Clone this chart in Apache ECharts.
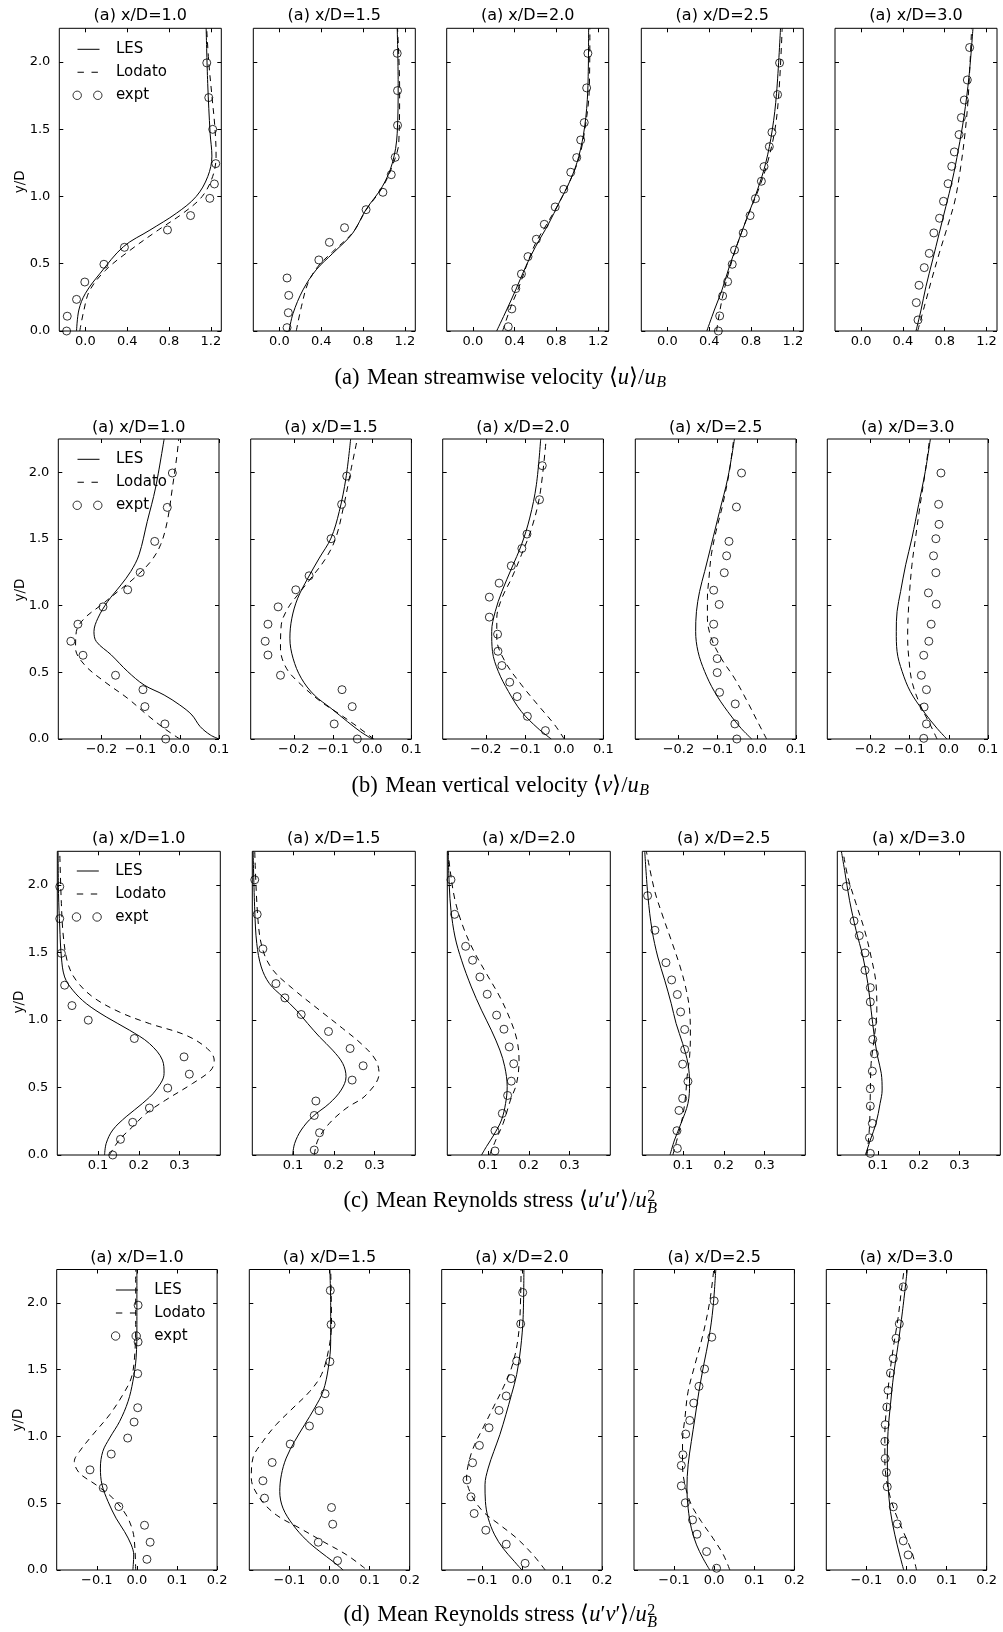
<!DOCTYPE html>
<html><head><meta charset="utf-8">
<script src="https://cdn.jsdelivr.net/npm/echarts@6/dist/echarts.min.js"></script>
<style>html,body{margin:0;padding:0;background:#fff}#c{width:1003px;height:1632px}</style>
</head><body><div id="c"></div>
<script>
// ---------------- DATA ----------------
const stations = ['1.0', '1.5', '2.0', '2.5', '3.0'];
const seriesNames = ['LES', 'Lodato', 'expt'];
const rowXRange = [[-0.25, 1.3], [-0.31, 0.1], [0, 0.4], [-0.2, 0.2]];
const rowXTicks = [[0, 0.4, 0.8, 1.2], [-0.2, -0.1, 0, 0.1], [0.1, 0.2, 0.3], [-0.1, 0, 0.1, 0.2]];
const yRange = [0, 2.25];
const yTicks = [0, 0.5, 1, 1.5, 2];

// Row (a): mean streamwise velocity  [x, y/D]
const U_LES = [
 [[-0.085,0],[-0.063,0.156],[0.0,0.28],[0.142,0.43],[0.364,0.627],[0.617,0.75],[0.87,0.875],[1.06,1.0],[1.17,1.147],[1.21,1.30],[1.193,1.47],[1.17,1.84],[1.155,2.25]],
 [[0.092,0],[0.13,0.13],[0.225,0.305],[0.351,0.454],[0.51,0.577],[0.70,0.726],[0.826,0.9],[0.984,1.073],[1.08,1.247],[1.127,1.47],[1.136,1.84],[1.127,2.25]],
 [[0.228,0],[0.323,0.156],[0.41,0.305],[0.506,0.478],[0.60,0.627],[0.727,0.80],[0.823,0.95],[0.934,1.123],[1.013,1.296],[1.07,1.519],[1.10,1.792],[1.108,2.25]],
 [[0.377,0],[0.449,0.156],[0.522,0.305],[0.592,0.478],[0.671,0.652],[0.766,0.85],[0.861,1.048],[0.94,1.247],[1.003,1.494],[1.044,1.767],[1.082,2.25]],
 [[0.525,0],[0.573,0.156],[0.62,0.33],[0.684,0.528],[0.747,0.726],[0.81,0.924],[0.873,1.123],[0.93,1.346],[0.984,1.594],[1.032,1.891],[1.07,2.25]]
];
const U_LOD = [
 [[-0.054,0],[-0.016,0.15],[0.04,0.3],[0.19,0.45],[0.427,0.6],[0.696,0.75],[0.933,0.875],[1.117,1.0],[1.218,1.15],[1.25,1.3],[1.24,1.5],[1.21,1.75],[1.18,2.0],[1.16,2.25]],
 [[0.161,0],[0.21,0.18],[0.272,0.354],[0.367,0.478],[0.51,0.59],[0.70,0.73],[0.83,0.9],[0.99,1.073],[1.09,1.247],[1.142,1.4],[1.15,1.8],[1.13,2.25]],
 [[0.285,0],[0.364,0.18],[0.443,0.33],[0.522,0.503],[0.60,0.652],[0.712,0.80],[0.823,0.95],[0.934,1.123],[1.02,1.296],[1.076,1.519],[1.114,1.792],[1.12,2.25]],
 [[0.47,0],[0.497,0.13],[0.535,0.28],[0.592,0.454],[0.661,0.627],[0.766,0.85],[0.87,1.048],[0.956,1.247],[1.028,1.494],[1.066,1.767],[1.098,2.25]],
 [[0.541,0],[0.604,0.18],[0.674,0.38],[0.747,0.577],[0.826,0.776],[0.899,0.974],[0.953,1.222],[0.994,1.47],[1.025,1.742],[1.057,2.25]]
];
const U_EXP = [
 [[-0.18,0.0],[-0.174,0.11],[-0.085,0.235],[-0.006,0.364],[0.177,0.496],[0.373,0.622],[0.785,0.751],[1.006,0.858],[1.19,0.986],[1.234,1.093],[1.247,1.244],[1.218,1.499],[1.18,1.735],[1.161,1.993]],
 [[0.073,0.025],[0.085,0.136],[0.089,0.265],[0.073,0.394],[0.377,0.528],[0.478,0.659],[0.623,0.768],[0.829,0.902],[0.99,1.031],[1.07,1.162],[1.108,1.291],[1.13,1.529],[1.13,1.787],[1.127,2.064]],
 [[0.339,0.032],[0.373,0.164],[0.411,0.315],[0.465,0.424],[0.528,0.553],[0.608,0.682],[0.684,0.793],[0.788,0.922],[0.87,1.053],[0.937,1.18],[0.994,1.289],[1.032,1.42],[1.066,1.549],[1.089,1.807],[1.101,2.064]],
 [[0.487,0.0],[0.5,0.112],[0.528,0.26],[0.576,0.367],[0.62,0.496],[0.642,0.602],[0.725,0.729],[0.791,0.858],[0.842,0.984],[0.899,1.113],[0.924,1.222],[0.975,1.37],[1.0,1.477],[1.054,1.757],[1.073,1.993]],
 [[0.544,0.082],[0.528,0.211],[0.554,0.34],[0.604,0.471],[0.652,0.577],[0.696,0.729],[0.75,0.838],[0.788,0.964],[0.832,1.095],[0.867,1.224],[0.892,1.331],[0.937,1.46],[0.959,1.586],[0.987,1.717],[1.016,1.866],[1.038,2.107]]
];

// Row (b): mean vertical velocity
const V_LES = [
 [[0.1,0],[0.078,0.03],[0.052,0.093],[0.031,0.18],[0.0,0.255],[-0.04,0.33],[-0.091,0.405],[-0.133,0.506],[-0.175,0.631],[-0.213,0.731],[-0.219,0.806],[-0.209,0.906],[-0.184,1.031],[-0.15,1.156],[-0.125,1.257],[-0.104,1.382],[-0.083,1.632],[-0.062,1.882],[-0.04,2.25]],
 [[0.0,0],[-0.03,0.055],[-0.063,0.13],[-0.105,0.23],[-0.148,0.33],[-0.181,0.456],[-0.202,0.606],[-0.21,0.756],[-0.205,0.906],[-0.19,1.056],[-0.164,1.207],[-0.135,1.357],[-0.105,1.507],[-0.084,1.707],[-0.067,1.957],[-0.055,2.25]],
 [[-0.033,0],[-0.067,0.08],[-0.109,0.205],[-0.142,0.355],[-0.168,0.506],[-0.183,0.656],[-0.185,0.806],[-0.176,0.956],[-0.159,1.106],[-0.134,1.282],[-0.109,1.457],[-0.088,1.657],[-0.071,1.907],[-0.06,2.25]],
 [[-0.013,0],[-0.04,0.08],[-0.074,0.205],[-0.108,0.355],[-0.133,0.506],[-0.15,0.656],[-0.156,0.806],[-0.154,0.956],[-0.146,1.106],[-0.133,1.257],[-0.116,1.457],[-0.095,1.707],[-0.074,1.957],[-0.057,2.25]],
 [[-0.005,0],[-0.03,0.08],[-0.064,0.205],[-0.098,0.355],[-0.119,0.506],[-0.132,0.656],[-0.134,0.806],[-0.132,0.956],[-0.123,1.106],[-0.11,1.307],[-0.094,1.507],[-0.077,1.757],[-0.06,2.007],[-0.047,2.25]]
];
const V_LOD = [
 [[0.0,0],[-0.04,0.08],[-0.083,0.18],[-0.133,0.305],[-0.192,0.43],[-0.243,0.556],[-0.266,0.681],[-0.264,0.806],[-0.243,0.906],[-0.2,1.006],[-0.158,1.106],[-0.116,1.207],[-0.074,1.332],[-0.049,1.457],[-0.032,1.632],[-0.019,1.882],[-0.007,2.133],[-0.003,2.25]],
 [[0.004,0],[-0.038,0.093],[-0.08,0.18],[-0.131,0.28],[-0.181,0.406],[-0.219,0.531],[-0.234,0.681],[-0.232,0.856],[-0.215,0.981],[-0.19,1.081],[-0.156,1.207],[-0.118,1.357],[-0.093,1.507],[-0.072,1.757],[-0.055,2.007],[-0.038,2.25]],
 [[0.0,0],[-0.024,0.105],[-0.067,0.255],[-0.109,0.406],[-0.151,0.581],[-0.172,0.756],[-0.172,0.906],[-0.159,1.056],[-0.134,1.207],[-0.109,1.382],[-0.083,1.582],[-0.062,1.832],[-0.046,2.25]],
 [[0.025,0],[0.002,0.13],[-0.024,0.28],[-0.057,0.456],[-0.091,0.606],[-0.116,0.756],[-0.126,0.906],[-0.126,1.056],[-0.122,1.207],[-0.116,1.382],[-0.104,1.557],[-0.087,1.757],[-0.07,2.007],[-0.059,2.25]],
 [[-0.03,0],[-0.047,0.105],[-0.073,0.255],[-0.094,0.431],[-0.102,0.606],[-0.105,0.756],[-0.104,0.906],[-0.1,1.106],[-0.094,1.307],[-0.085,1.507],[-0.073,1.757],[-0.06,2.007],[-0.049,2.25]]
];
const V_EXP = [
 [[-0.036,0.0],[-0.038,0.113],[-0.089,0.243],[-0.094,0.37],[-0.164,0.478],[-0.247,0.628],[-0.278,0.733],[-0.26,0.861],[-0.196,0.991],[-0.133,1.119],[-0.101,1.249],[-0.064,1.482],[-0.032,1.737],[-0.019,1.995]],
 [[-0.038,0.0],[-0.097,0.113],[-0.051,0.243],[-0.077,0.37],[-0.234,0.478],[-0.266,0.63],[-0.273,0.733],[-0.266,0.861],[-0.24,0.991],[-0.195,1.119],[-0.161,1.224],[-0.105,1.502],[-0.078,1.76],[-0.065,1.972]],
 [[-0.048,0.063],[-0.094,0.17],[-0.12,0.318],[-0.139,0.426],[-0.159,0.551],[-0.169,0.658],[-0.17,0.786],[-0.191,0.914],[-0.191,1.064],[-0.166,1.169],[-0.135,1.299],[-0.108,1.429],[-0.095,1.537],[-0.063,1.795],[-0.056,2.05]],
 [[-0.051,0.0],[-0.056,0.113],[-0.055,0.263],[-0.095,0.35],[-0.101,0.498],[-0.101,0.603],[-0.109,0.731],[-0.11,0.861],[-0.096,1.009],[-0.11,1.116],[-0.083,1.247],[-0.077,1.374],[-0.071,1.482],[-0.052,1.74],[-0.039,1.995]],
 [[-0.064,0.005],[-0.057,0.113],[-0.063,0.24],[-0.057,0.37],[-0.07,0.478],[-0.064,0.628],[-0.051,0.733],[-0.045,0.861],[-0.032,1.011],[-0.052,1.096],[-0.033,1.247],[-0.039,1.374],[-0.033,1.502],[-0.025,1.61],[-0.026,1.76],[-0.02,1.995]]
];

// Row (c): Reynolds stress u'u'
const UU_LES = [
 [[0.116,0],[0.12,0.086],[0.136,0.185],[0.169,0.284],[0.209,0.382],[0.242,0.481],[0.262,0.604],[0.258,0.703],[0.226,0.826],[0.177,0.925],[0.12,1.023],[0.071,1.122],[0.038,1.221],[0.018,1.319],[0.01,1.467],[0.006,1.689],[0.003,1.936],[0.002,2.25]],
 [[0.099,0],[0.104,0.086],[0.12,0.185],[0.148,0.284],[0.189,0.382],[0.218,0.481],[0.23,0.58],[0.222,0.678],[0.197,0.777],[0.165,0.875],[0.136,0.974],[0.108,1.073],[0.075,1.171],[0.042,1.27],[0.022,1.393],[0.011,1.566],[0.006,1.813],[0.002,2.25]],
 [[0.084,0],[0.096,0.062],[0.114,0.148],[0.133,0.259],[0.143,0.382],[0.147,0.506],[0.141,0.654],[0.129,0.777],[0.108,0.925],[0.084,1.073],[0.059,1.245],[0.035,1.443],[0.019,1.615],[0.009,1.813],[0.005,1.985],[0.002,2.25]],
 [[0.068,0],[0.079,0.111],[0.095,0.234],[0.112,0.382],[0.116,0.53],[0.112,0.678],[0.099,0.826],[0.083,0.974],[0.071,1.122],[0.055,1.295],[0.038,1.467],[0.024,1.665],[0.014,1.911],[0.006,2.25]],
 [[0.069,0],[0.081,0.111],[0.095,0.234],[0.105,0.382],[0.11,0.481],[0.108,0.604],[0.099,0.727],[0.091,0.875],[0.083,1.073],[0.075,1.27],[0.063,1.467],[0.046,1.665],[0.03,1.887],[0.018,2.108],[0.01,2.25]]
];
const UU_LOD = [
 [[0.128,0],[0.152,0.111],[0.185,0.21],[0.218,0.308],[0.266,0.407],[0.332,0.53],[0.377,0.629],[0.385,0.703],[0.368,0.789],[0.315,0.888],[0.226,0.974],[0.152,1.06],[0.087,1.171],[0.046,1.295],[0.026,1.418],[0.015,1.615],[0.01,1.862],[0.006,2.25]],
 [[0.152,0],[0.161,0.111],[0.189,0.234],[0.23,0.345],[0.279,0.444],[0.311,0.604],[0.303,0.703],[0.271,0.814],[0.222,0.937],[0.165,1.073],[0.099,1.233],[0.051,1.369],[0.026,1.517],[0.014,1.739],[0.006,2.25]],
 [[0.104,0],[0.119,0.111],[0.137,0.234],[0.155,0.407],[0.17,0.53],[0.176,0.703],[0.171,0.851],[0.155,0.999],[0.129,1.171],[0.096,1.344],[0.064,1.517],[0.039,1.689],[0.019,1.887],[0.007,2.109],[0.002,2.25]],
 [[0.075,0],[0.087,0.136],[0.099,0.284],[0.106,0.432],[0.11,0.58],[0.116,0.727],[0.118,0.875],[0.116,1.073],[0.108,1.221],[0.093,1.393],[0.071,1.591],[0.051,1.763],[0.03,1.961],[0.01,2.25]],
 [[0.073,0],[0.079,0.21],[0.081,0.456],[0.083,0.678],[0.091,0.875],[0.097,1.073],[0.095,1.27],[0.083,1.467],[0.067,1.665],[0.046,1.862],[0.026,2.059],[0.014,2.25]]
];
const UU_EXP = [
 [[0.136,0.0],[0.155,0.116],[0.185,0.242],[0.226,0.348],[0.271,0.496],[0.324,0.599],[0.311,0.727],[0.189,0.863],[0.076,0.999],[0.036,1.107],[0.018,1.258],[0.01,1.494],[0.006,1.751],[0.006,1.988]],
 [[0.152,0.037],[0.165,0.165],[0.152,0.293],[0.156,0.4],[0.245,0.555],[0.272,0.661],[0.24,0.789],[0.187,0.915],[0.12,1.041],[0.08,1.164],[0.058,1.27],[0.026,1.527],[0.012,1.783],[0.006,2.039]],
 [[0.117,0.03],[0.117,0.18],[0.135,0.308],[0.148,0.441],[0.157,0.547],[0.163,0.676],[0.152,0.801],[0.139,0.932],[0.121,1.036],[0.098,1.191],[0.08,1.319],[0.062,1.443],[0.045,1.546],[0.018,1.783],[0.009,2.039]],
 [[0.086,0.049],[0.085,0.18],[0.09,0.33],[0.099,0.419],[0.112,0.545],[0.099,0.673],[0.104,0.782],[0.104,0.93],[0.094,1.06],[0.086,1.189],[0.072,1.297],[0.058,1.425],[0.031,1.665],[0.013,1.921]],
 [[0.081,0.012],[0.079,0.128],[0.086,0.234],[0.081,0.363],[0.081,0.491],[0.086,0.621],[0.091,0.75],[0.087,0.856],[0.087,0.986],[0.081,1.134],[0.081,1.24],[0.068,1.369],[0.068,1.497],[0.054,1.625],[0.041,1.734],[0.022,1.99]]
];

// Row (d): Reynolds stress u'v'
const UV_LES = [
 [[-0.01,0],[-0.008,0.113],[-0.014,0.188],[-0.031,0.288],[-0.052,0.388],[-0.072,0.513],[-0.087,0.638],[-0.091,0.763],[-0.085,0.888],[-0.068,0.988],[-0.043,1.113],[-0.022,1.263],[-0.01,1.413],[-0.002,1.588],[0.0,1.838],[0.0,2.25]],
 [[0.034,0],[0.009,0.063],[-0.024,0.138],[-0.058,0.225],[-0.091,0.338],[-0.116,0.463],[-0.124,0.588],[-0.12,0.713],[-0.108,0.838],[-0.087,0.963],[-0.062,1.088],[-0.037,1.213],[-0.016,1.338],[-0.003,1.513],[0.003,1.713],[0.003,1.963],[0.001,2.25]],
 [[0.0,0],[-0.022,0.075],[-0.047,0.163],[-0.068,0.263],[-0.084,0.388],[-0.091,0.513],[-0.092,0.638],[-0.084,0.763],[-0.07,0.888],[-0.055,1.013],[-0.04,1.163],[-0.026,1.313],[-0.013,1.463],[-0.003,1.663],[0.003,1.888],[0.005,2.25]],
 [[-0.011,0],[-0.028,0.088],[-0.044,0.188],[-0.057,0.313],[-0.065,0.463],[-0.068,0.613],[-0.065,0.788],[-0.057,0.963],[-0.048,1.138],[-0.038,1.338],[-0.026,1.538],[-0.013,1.738],[-0.003,1.963],[0.004,2.25]],
 [[-0.007,0],[-0.017,0.113],[-0.029,0.263],[-0.04,0.438],[-0.046,0.638],[-0.048,0.838],[-0.046,1.038],[-0.04,1.238],[-0.032,1.463],[-0.021,1.688],[-0.01,1.938],[0.002,2.25]]
];
const UV_LOD = [
 [[-0.003,0],[-0.005,0.163],[-0.01,0.288],[-0.027,0.413],[-0.06,0.538],[-0.102,0.638],[-0.143,0.725],[-0.156,0.813],[-0.143,0.888],[-0.11,1.013],[-0.068,1.163],[-0.035,1.313],[-0.014,1.438],[-0.006,1.588],[-0.003,1.838],[-0.003,2.25]],
 [[0.088,0.013],[0.043,0.113],[-0.016,0.213],[-0.074,0.313],[-0.133,0.413],[-0.174,0.538],[-0.195,0.688],[-0.191,0.838],[-0.166,0.963],[-0.133,1.088],[-0.091,1.213],[-0.049,1.338],[-0.02,1.463],[-0.003,1.638],[0.005,1.838],[0.003,2.25]],
 [[0.058,0],[0.028,0.113],[-0.013,0.238],[-0.055,0.338],[-0.097,0.438],[-0.126,0.563],[-0.138,0.688],[-0.132,0.813],[-0.118,0.938],[-0.097,1.063],[-0.072,1.213],[-0.047,1.363],[-0.026,1.513],[-0.012,1.688],[-0.005,1.888],[-0.002,2.25]],
 [[0.039,0],[0.023,0.113],[-0.003,0.238],[-0.032,0.363],[-0.057,0.488],[-0.073,0.638],[-0.079,0.788],[-0.079,0.963],[-0.073,1.138],[-0.065,1.338],[-0.048,1.538],[-0.028,1.763],[-0.011,2.013],[-0.001,2.25]],
 [[0.025,0],[0.013,0.138],[-0.008,0.288],[-0.029,0.438],[-0.046,0.613],[-0.054,0.813],[-0.054,1.013],[-0.05,1.213],[-0.043,1.438],[-0.033,1.663],[-0.021,1.888],[-0.013,2.088],[-0.006,2.25]]
];
const UV_EXP = [
 [[0.025,0.08],[0.033,0.208],[0.019,0.335],[-0.045,0.475],[-0.084,0.615],[-0.117,0.75],[-0.064,0.868],[-0.023,0.988],[-0.007,1.108],[0.002,1.215],[0.002,1.47],[0.003,1.708],[0.003,1.983]],
 [[0.02,0.07],[-0.028,0.208],[0.008,0.343],[0.005,0.468],[-0.162,0.538],[-0.166,0.668],[-0.143,0.805],[-0.098,0.943],[-0.05,1.078],[-0.026,1.193],[-0.011,1.32],[0.001,1.56],[0.004,1.838],[0.002,2.093]],
 [[0.008,0.05],[-0.039,0.193],[-0.09,0.298],[-0.119,0.423],[-0.127,0.548],[-0.137,0.675],[-0.123,0.803],[-0.106,0.933],[-0.082,1.065],[-0.057,1.195],[-0.039,1.303],[-0.027,1.433],[-0.013,1.565],[-0.003,1.843],[0.002,2.078]],
 [[0.006,0.013],[-0.019,0.138],[-0.043,0.268],[-0.054,0.375],[-0.072,0.503],[-0.082,0.63],[-0.082,0.783],[-0.078,0.863],[-0.071,1.018],[-0.061,1.12],[-0.051,1.25],[-0.038,1.375],[-0.024,1.505],[-0.006,1.743],[0.0,2.015]],
 [[0.004,0.113],[-0.008,0.218],[-0.023,0.345],[-0.033,0.473],[-0.048,0.623],[-0.05,0.73],[-0.053,0.835],[-0.054,0.963],[-0.053,1.088],[-0.049,1.22],[-0.046,1.345],[-0.04,1.475],[-0.033,1.583],[-0.026,1.735],[-0.018,1.843],[-0.008,2.12]]
];

const ROWS = [
  {les: U_LES, lod: U_LOD, exp: U_EXP},
  {les: V_LES, lod: V_LOD, exp: V_EXP},
  {les: UU_LES, lod: UU_LOD, exp: UU_EXP},
  {les: UV_LES, lod: UV_LOD, exp: UV_EXP}
];

// ---------------- LAYOUT (pixels) ----------------
const LAYOUT = [
  {lefts:[59.3,253.3,446.7,641.3,835.0], width:162, top:28.3, height:302.7, titleY:16.3, ylab:[20.7,181.7], legend:[72.4,41.8], capY:378},
  {lefts:[58.3,250.7,442.7,635.3,827.3], width:160.7, top:439.0, height:300, titleY:427.7, ylab:[20.7,590], legend:[72.4,451.8], capY:786},
  {lefts:[57.3,252.3,447.3,642.3,837.3], width:163, top:851.3, height:303.7, titleY:839.3, ylab:[19.3,1002], legend:[71.7,863.5], capY:1201},
  {lefts:[56.7,249.3,441.7,634.0,826.3], width:160.4, top:1269.5, height:300.5, titleY:1258.3, ylab:[18.5,1420], legend:[110.8,1282.5], capY:1615}
];
const CAP_CX = 500.5;

const SANS = '"DejaVu Sans", sans-serif';
const SERIF = '"Liberation Serif", "Times New Roman", serif';
const fmt = v => (Math.abs(v) < 1e-9 ? '0.0' : v.toFixed(1)).replace('-', '\u2212');

const grids = [], xAxes = [], yAxes = [], xAxes2 = [], yAxes2 = [], series = [], graphics = [];
let gi = 0;
LAYOUT.forEach((L, r) => {
  for (let c = 0; c < 5; c++) {
    grids.push({left: L.lefts[c], top: L.top, width: L.width, height: L.height, show: true,
      borderColor: '#000', borderWidth: 1, backgroundColor: 'transparent', containLabel: false, outerBoundsMode: 'none'});
    const tickCommon = {show: true, inside: true, length: 4, lineStyle: {color: '#000', width: 1}};
    xAxes.push({type: 'value', gridIndex: gi, min: rowXRange[r][0], max: rowXRange[r][1], position: 'bottom',
      axisLine: {show: false, onZero: false}, splitLine: {show: false},
      axisTick: Object.assign({customValues: rowXTicks[r]}, tickCommon),
      axisLabel: {show: true, customValues: rowXTicks[r], formatter: fmt, margin: 4, color: '#000', fontSize: 13, fontFamily: SANS}});
    xAxes2.push({type: 'value', gridIndex: gi, min: rowXRange[r][0], max: rowXRange[r][1], position: 'top',
      axisLine: {show: false, onZero: false}, splitLine: {show: false},
      axisTick: Object.assign({customValues: rowXTicks[r]}, tickCommon), axisLabel: {show: false}});
    yAxes.push({type: 'value', gridIndex: gi, min: yRange[0], max: yRange[1], position: 'left',
      axisLine: {show: false, onZero: false}, splitLine: {show: false},
      axisTick: Object.assign({customValues: yTicks}, tickCommon),
      axisLabel: {show: c === 0, customValues: yTicks, formatter: fmt, margin: 9, color: '#000', fontSize: 13, fontFamily: SANS}});
    yAxes2.push({type: 'value', gridIndex: gi, min: yRange[0], max: yRange[1], position: 'right',
      axisLine: {show: false, onZero: false}, splitLine: {show: false},
      axisTick: Object.assign({customValues: yTicks}, tickCommon), axisLabel: {show: false}});

    const R = ROWS[r];
    series.push({type: 'line', name: 'LES', xAxisIndex: gi, yAxisIndex: gi, data: R.les[c],
      symbol: 'none', showSymbol: false, smooth: 0.35, lineStyle: {color: '#000', width: 1}, itemStyle: {color: '#000'}, silent: true, z: 3});
    series.push({type: 'line', name: 'Lodato', xAxisIndex: gi, yAxisIndex: gi, data: R.lod[c],
      symbol: 'none', showSymbol: false, smooth: 0.35, lineStyle: {color: '#000', width: 1, type: [6, 5]}, itemStyle: {color: '#000'}, silent: true, z: 3});
    series.push({type: 'scatter', name: 'expt', xAxisIndex: gi, yAxisIndex: gi, data: R.exp[c],
      symbol: 'circle', symbolSize: 8, itemStyle: {color: 'rgba(0,0,0,0)', borderColor: '#000', borderWidth: 1}, silent: true, z: 4});

    graphics.push({type: 'text', x: L.lefts[c] + L.width / 2, y: L.titleY, silent: true,
      style: {text: '(a) x/D=' + stations[c], font: '16px ' + SANS, fill: '#000', align: 'center', verticalAlign: 'middle', textAlign: 'center', textVerticalAlign: 'middle'}});
    gi++;
  }
  graphics.push({type: 'text', x: L.ylab[0], y: L.ylab[1], rotation: Math.PI / 2, silent: true,
    style: {text: 'y/D', font: '13.5px ' + SANS, fill: '#000', align: 'center', verticalAlign: 'middle', textAlign: 'center', textVerticalAlign: 'middle'}});
});

// ---------------- CAPTIONS ----------------
const F_R = '22.5px ' + SERIF, F_I = 'italic 22.5px ' + SERIF, F_SI = 'italic 16px ' + SERIF, F_SR = '16px ' + SERIF;
const captions = [
  [['(a)\u2004Mean streamwise velocity ', F_R], ['\u27E8', F_R], ['u', F_I], ['\u27E9/', F_R], ['u', F_I], {sub: 'B'}],
  [['(b)\u2004Mean vertical velocity ', F_R], ['\u27E8', F_R], ['v', F_I], ['\u27E9/', F_R], ['u', F_I], {sub: 'B'}],
  [['(c)\u2004Mean Reynolds stress ', F_R], ['\u27E8', F_R], ['u', F_I], ['\u2032', F_R], ['u', F_I], ['\u2032', F_R], ['\u27E9/', F_R], ['u', F_I], {sub: 'B', sup: '2'}],
  [['(d)\u2004Mean Reynolds stress ', F_R], ['\u27E8', F_R], ['u', F_I], ['\u2032', F_R], ['v', F_I], ['\u2032', F_R], ['\u27E9/', F_R], ['u', F_I], {sub: 'B', sup: '2'}]
];
const mctx = document.createElement('canvas').getContext('2d');
const measure = (t, f) => { mctx.font = f; return mctx.measureText(t).width; };
captions.forEach((segs, r) => {
  const Y = LAYOUT[r].capY;
  const widths = segs.map(s => Array.isArray(s) ? measure(s[0], s[1]) : Math.max(measure(s.sub, F_SI), s.sup ? measure(s.sup, F_SR) : 0) + 1);
  const total = widths.reduce((a, b) => a + b, 0);
  let x = CAP_CX - total / 2;
  segs.forEach((s, i) => {
    if (Array.isArray(s)) {
      graphics.push({type: 'text', x: x, y: Y, silent: true, style: {text: s[0], font: s[1], fill: '#000', align: 'left', verticalAlign: 'middle', textAlign: 'left', textVerticalAlign: 'middle'}});
    } else {
      graphics.push({type: 'text', x: x + 0.5, y: Y + (s.sup ? 7.5 : 5), silent: true, style: {text: s.sub, font: F_SI, fill: '#000', align: 'left', verticalAlign: 'middle', textAlign: 'left', textVerticalAlign: 'middle'}});
      if (s.sup) graphics.push({type: 'text', x: x + 0.5, y: Y - 4.5, silent: true, style: {text: s.sup, font: F_SR, fill: '#000', align: 'left', verticalAlign: 'middle', textAlign: 'left', textVerticalAlign: 'middle'}});
    }
    x += widths[i];
  });
});

// ---------------- LEGENDS ----------------
const ICON_LES = 'path://M0,0L0,0M38,10L38,10M4.6,4.5L26.6,4.5L26.6,5.5L4.6,5.5Z';
const ICON_LOD = 'path://M0,0L0,0M38,10L38,10M4.6,4.5L11,4.5L11,5.5L4.6,5.5Z M18.6,4.5L25,4.5L25,5.5L18.6,5.5Z';
const ICON_EXP = 'path://M0,0L0,0M38,10L38,10M8.5,5A4.2,4.2 0 1,1 0.1,5A4.2,4.2 0 1,1 8.5,5Z M29.1,5A4.2,4.2 0 1,1 20.7,5A4.2,4.2 0 1,1 29.1,5Z';
const legends = LAYOUT.map(L => ({
  left: L.legend[0], top: L.legend[1], orient: 'vertical', padding: 0, itemGap: 8,
  itemWidth: 38, itemHeight: 10, selectedMode: false, symbolKeepAspect: true,
  textStyle: {fontSize: 15, fontFamily: SANS, color: '#000', lineHeight: 15},
  data: [
    {name: seriesNames[0], icon: ICON_LES, itemStyle: {color: '#000', borderWidth: 0, borderColor: '#000'}},
    {name: seriesNames[1], icon: ICON_LOD, itemStyle: {color: '#000', borderWidth: 0, borderColor: '#000'}},
    {name: seriesNames[2], icon: ICON_EXP, itemStyle: {color: 'rgba(0,0,0,0)', borderColor: '#000', borderWidth: 1}}
  ]
}));

const chart = echarts.init(document.getElementById('c'), null, {renderer: 'canvas', width: 1003, height: 1632});
chart.setOption({
  animation: false,
  backgroundColor: '#fff',
  grid: grids,
  xAxis: xAxes.concat(xAxes2),
  yAxis: yAxes.concat(yAxes2),
  legend: legends,
  series: series,
  graphic: {elements: graphics}
});
</script></body></html>
